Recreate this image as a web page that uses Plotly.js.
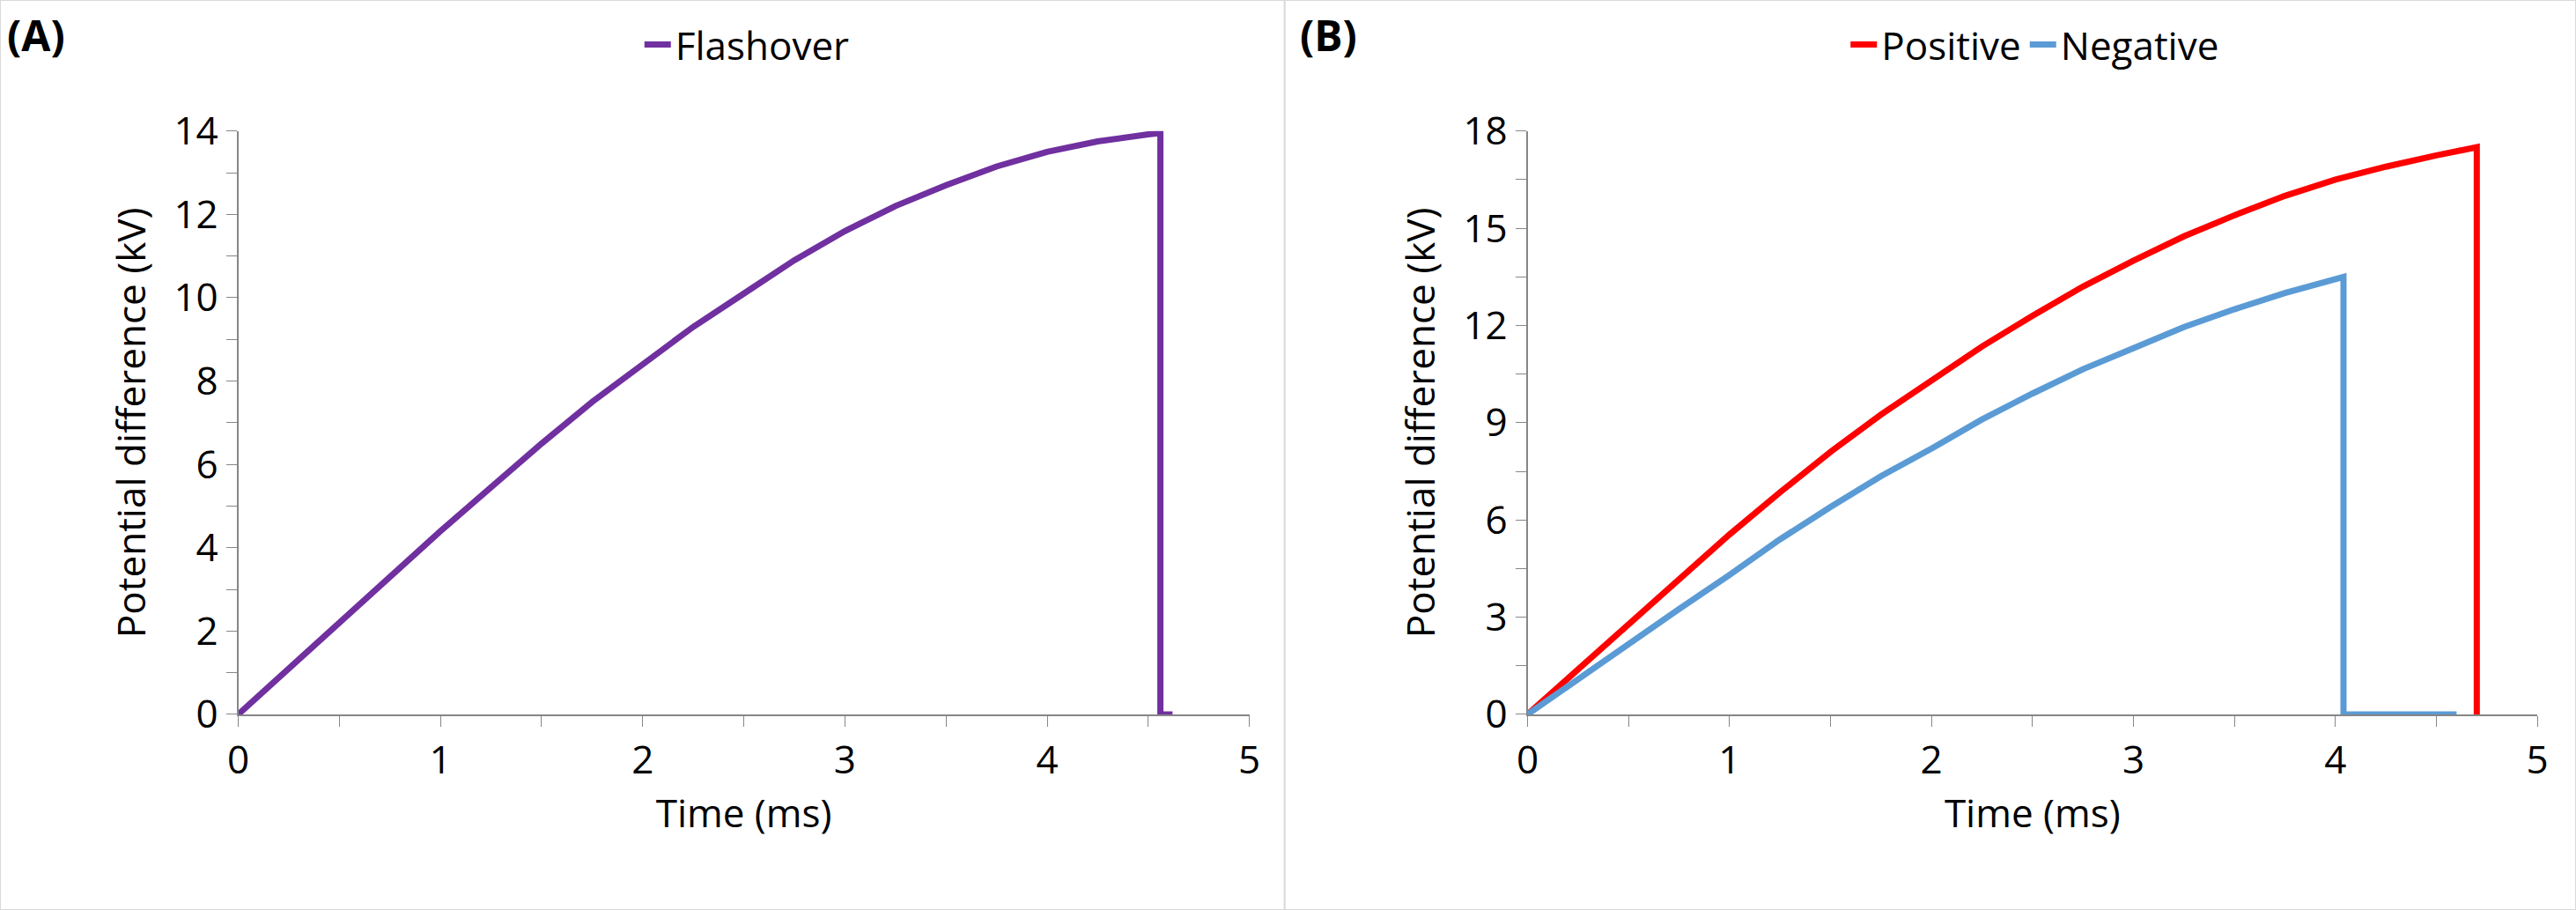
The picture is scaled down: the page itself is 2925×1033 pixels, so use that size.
<!DOCTYPE html>
<html><head><meta charset="utf-8">
<script src="https://cdn.plot.ly/plotly-3.0.1.min.js"></script>
<style>body{margin:0}#c{width:2925px;height:1033px}</style>
</head><body><div id="c"></div>
<script>
// Panel A (Flashover)
var timeA = [0, 0.25, 0.5, 0.75, 1, 1.25, 1.5, 1.75, 2, 2.25, 2.5, 2.75, 3, 3.25, 3.5, 3.75, 4, 4.25, 4.5, 4.56, 4.56, 4.62];
var voltA = [0, 1.1, 2.2, 3.3, 4.4, 5.45, 6.5, 7.5, 8.4, 9.3, 10.1, 10.9, 11.6, 12.2, 12.7, 13.15, 13.5, 13.75, 13.92, 13.95, 0, 0];
// Panel B (Positive / Negative)
var timePos = [0, 0.25, 0.5, 0.75, 1, 1.25, 1.5, 1.75, 2, 2.25, 2.5, 2.75, 3, 3.25, 3.5, 3.75, 4, 4.25, 4.5, 4.7, 4.7];
var voltPos = [0, 1.4, 2.8, 4.2, 5.55, 6.85, 8.1, 9.25, 10.3, 11.35, 12.3, 13.2, 14.0, 14.75, 15.4, 16.0, 16.5, 16.9, 17.25, 17.5, 0];
var timeNeg = [0, 0.25, 0.5, 0.75, 1, 1.25, 1.5, 1.75, 2, 2.25, 2.5, 2.75, 3, 3.25, 3.5, 3.75, 4.04, 4.04, 4.6];
var voltNeg = [0, 1.1, 2.2, 3.25, 4.3, 5.4, 6.4, 7.35, 8.2, 9.1, 9.9, 10.65, 11.3, 11.95, 12.5, 13.0, 13.5, 0, 0];

var font = {family: 'Open Sans, Noto Sans, sans-serif', size: 44, color: '#000'};
function xa(dom, anchor) {
  return {domain: dom, anchor: anchor, range: [0, 5], dtick: 1, showgrid: false, zeroline: false,
    showline: true, linecolor: '#868686', linewidth: 2, ticks: 'outside', ticklen: 12, tickcolor: '#868686',
    minor: {dtick: 0.5, ticks: 'outside', ticklen: 12, tickcolor: '#868686'},
    title: {text: 'Time (ms)', font: font, standoff: 18}, tickfont: font};
}
function ya(dom, anchor, max, dt) {
  return {domain: dom, anchor: anchor, range: [0, max], dtick: dt, showgrid: false, zeroline: false,
    showline: true, linecolor: '#868686', linewidth: 2, ticks: 'outside', ticklen: 12, tickcolor: '#868686',
    minor: {dtick: dt / 2, ticks: 'outside', ticklen: 12, tickcolor: '#868686'},
    title: {text: 'Potential difference (kV)', font: font, standoff: 18}, tickfont: font};
}
var traces = [
  {x: timeA, y: voltA, name: 'Flashover', showlegend: true, mode: 'lines', line: {color: '#7030A0', width: 7}, xaxis: 'x', yaxis: 'y', legend: 'legend'},
  {x: timePos, y: voltPos, name: 'Positive', mode: 'lines', line: {color: '#FF0000', width: 7}, xaxis: 'x2', yaxis: 'y2', legend: 'legend2'},
  {x: timeNeg, y: voltNeg, name: 'Negative', mode: 'lines', line: {color: '#5B9BD5', width: 7}, xaxis: 'x2', yaxis: 'y2', legend: 'legend2'}
];
var layout = {
  width: 2925, height: 1033, margin: {l: 0, r: 0, t: 0, b: 0},
  paper_bgcolor: '#fff', plot_bgcolor: '#fff', font: font, showlegend: true,
  xaxis: xa([0.0925, 0.485], 'y'), yaxis: ya([0.215, 0.856], 'x', 14, 2),
  xaxis2: xa([0.593, 0.985], 'y2'), yaxis2: ya([0.215, 0.856], 'x2', 18, 3),
  legend: {x: 0.29, y: 0.985, xanchor: 'center', yanchor: 'top', orientation: 'h', font: font, itemwidth: 30},
  legend2: {x: 0.79, y: 0.985, xanchor: 'center', yanchor: 'top', orientation: 'h', font: font, itemwidth: 30},
  annotations: [
    {text: '<b>(A)</b>', xref: 'paper', yref: 'paper', x: 0.002, y: 0.995, xanchor: 'left', yanchor: 'top', showarrow: false, font: {family: font.family, size: 48}},
    {text: '<b>(B)</b>', xref: 'paper', yref: 'paper', x: 0.504, y: 0.995, xanchor: 'left', yanchor: 'top', showarrow: false, font: {family: font.family, size: 48}}
  ],
  shapes: [
    {type: 'rect', xref: 'paper', yref: 'paper', x0: 0, x1: 1, y0: 0, y1: 1, line: {color: '#d9d9d9', width: 2}},
    {type: 'line', xref: 'paper', yref: 'paper', x0: 0.4987, x1: 0.4987, y0: 0, y1: 1, line: {color: '#d9d9d9', width: 2}}
  ]
};
Plotly.newPlot('c', traces, layout, {displayModeBar: false});
</script></body></html>
